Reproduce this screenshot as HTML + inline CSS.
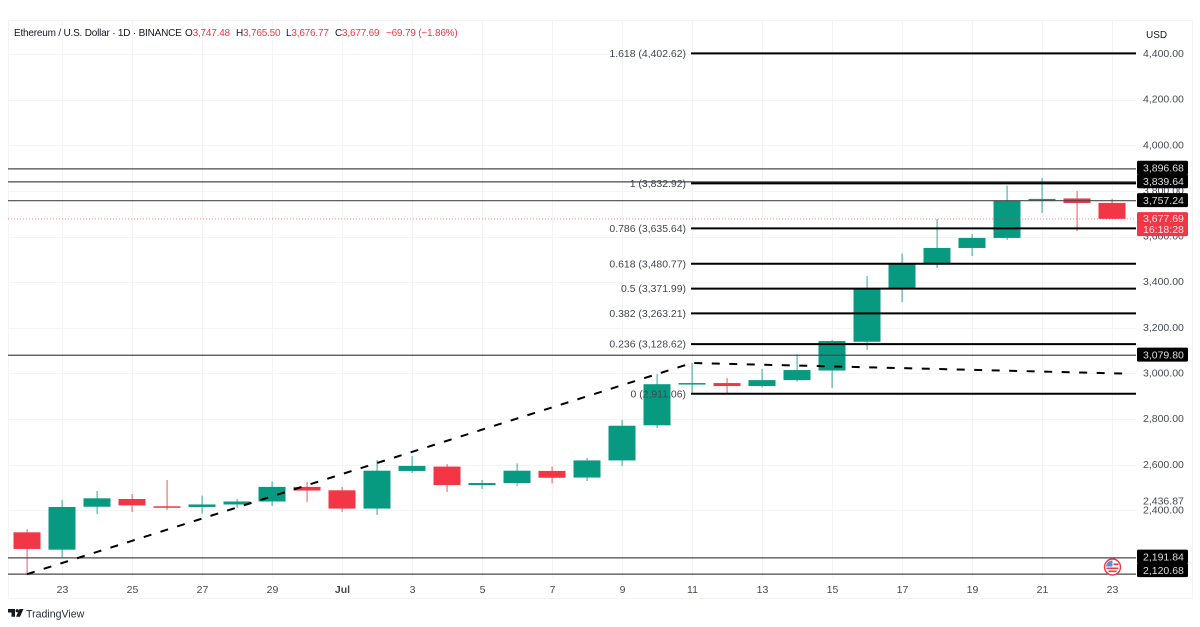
<!DOCTYPE html>
<html lang="en">
<head>
<meta charset="utf-8">
<title>Ethereum / U.S. Dollar chart</title>
<style>
html,body{margin:0;padding:0;background:#fff;width:1200px;height:627px;overflow:hidden}
svg{position:absolute;left:0;top:0;font-family:"Liberation Sans",sans-serif}
.hdr{position:absolute;top:27px;font:10px/14px "Liberation Sans",sans-serif;letter-spacing:-.2px;color:#131722;white-space:nowrap}
.red{color:#f23645}
</style>
</head>
<body>
<svg id="chart" width="1200" height="627" viewBox="0 0 1200 627" xmlns="http://www.w3.org/2000/svg"></svg>

<div class="hdr" style="left:14px">Ethereum / U.S. Dollar · 1D · BINANCE</div>
<div class="hdr" style="left:185px">O<span class="red">3,747.48</span></div>
<div class="hdr" style="left:236px">H<span class="red">3,765.50</span></div>
<div class="hdr" style="left:286px">L<span class="red">3,676.77</span></div>
<div class="hdr" style="left:335px">C<span class="red">3,677.69</span></div>
<div class="hdr red" style="left:386px">−69.79 (−1.86%)</div>

<script>
const dayLabels = ["23","25","27","29","Jul","3","5","7","9","11","13","15","17","19","21","23"];
const dayLabelIndex = [1,3,5,7,9,11,13,15,17,19,21,23,25,27,29,31];
const opens  = [2304,2228,2416,2450,2418,2415,2426,2439,2503,2488,2408,2573,2592,2511,2520,2573,2544,2619,2773,2954,2958,2945,2971,3013,3139,3373,3484,3550,3594,3758,3767,3747.48];
const highs  = [2318,2446,2485,2472,2533,2465,2450,2527,2525,2503,2621,2638,2603,2533,2606,2592,2630,2796,2998,3046,2980,3020,3085,3147,3427,3526,3677,3611,3823,3857,3800,3765.5];
const lows   = [2120.68,2194,2384,2393,2402,2386,2411,2419,2437,2393,2380,2564,2481,2494,2507,2518,2529,2595,2761,2912,2910,2939,2965,2936,3103,3313,3462,3515,3585,3703,3624,3676.77];
const closes = [2231,2415,2453,2422,2413,2426,2439,2503,2487,2408,2574,2595,2511,2520,2574,2543,2619,2771,2953,2958,2945,2971,3015,3142,3372,3480,3550,3594,3757,3765,3747,3677.69];
const priceTicks = [4400,4200,4000,3800,3600,3400,3200,3000,2800,2600,2400];
const fibRatios = ["1.618","1","0.786","0.618","0.5","0.382","0.236","0"];
const fibPrices = [4402.62,3832.92,3635.64,3480.77,3371.99,3263.21,3128.62,2911.06];
const rayPrices = [3896.68,3839.64,3757.24,3079.80,2191.84,2120.68];
const trendIndex = [0,19,31.5];
const trendPrice = [2120.68,3046,2999];
const lastClose = 3677.69;
const secondaryLabel = 2436.87;
const countdown = "16:18:28";

const NS = "http://www.w3.org/2000/svg";
const svg = document.getElementById("chart");
const UP = "#089981", DOWN = "#f23645", GRID = "#f4f4f5", INK = "#131722";
const PANE = {left:8, right:1136, top:21, bottom:578};

const xAt = i => 27 + i * 35;
const yAt = p => 54 + (4400 - p) * 0.2282;
const fmt = v => v.toLocaleString("en-US", {minimumFractionDigits:2, maximumFractionDigits:2});

function make(tag, attrs, text){
  const el = document.createElementNS(NS, tag);
  for (const k in attrs) el.setAttribute(k, attrs[k]);
  if (text !== undefined) el.textContent = text;
  svg.appendChild(el);
  return el;
}

/* frame */
let frame = make("rect", {x:8.5, y:20.5, width:1184, height:578, fill:"none", stroke:GRID});



/* grid */
priceTicks.forEach(p => {
  const el = make("line", {x1:PANE.left, x2:PANE.right, y1:Math.round(yAt(p))+.5, y2:Math.round(yAt(p))+.5, stroke:GRID});
  
  
});
dayLabelIndex.forEach(i => {
  const el = make("line", {x1:xAt(i)+.5, x2:xAt(i)+.5, y1:PANE.top, y2:PANE.bottom, stroke:GRID});
  
  
});

/* candles */
opens.forEach((o, i) => {
  const c = closes[i], col = c >= o ? UP : DOWN, x = xAt(i);
  const wick = make("rect", {x:x-.5, width:1.2, y:yAt(highs[i]), height:yAt(lows[i])-yAt(highs[i]), fill:col, opacity:.7});
  
  
  const top = yAt(Math.max(o,c)), h = Math.max(1.5, Math.abs(yAt(o)-yAt(c)));
  const body = make("rect", {x:x-13.5, width:27, y:top, height:h, fill:col});
  
  
});

/* last price dotted line */
let lastLine = make("line", {x1:PANE.left, x2:PANE.right, y1:yAt(lastClose), y2:yAt(lastClose), stroke:DOWN, "stroke-dasharray":"1 2", opacity:.6});



/* horizontal rays */
rayPrices.forEach(p => {
  const el = make("line", {x1:PANE.left, x2:PANE.right, y1:yAt(p), y2:yAt(p), stroke:"#4a4a4a", "stroke-width":1.2});
  
  
});

/* trend line */
let trend = make("polyline", {
  points: trendIndex.map((t, i) => xAt(t) + "," + yAt(trendPrice[i])).join(" "),
  fill:"none", stroke:"#000", "stroke-width":2, "stroke-dasharray":"8 9.5"
});



/* fibonacci levels */
fibPrices.forEach((p, i) => {
  const ln = make("line", {x1:691, x2:PANE.right, y1:yAt(p), y2:yAt(p), stroke:"#000", "stroke-width":2});
  
  
  const t = make("text", {x:686, y:yAt(p)+3.5, "text-anchor":"end", "font-size":10.45, fill:"#42454f"}, fibRatios[i] + " (" + fmt(p) + ")");
  
  
});

/* right axis */
let unit = make("text", {x:1146, y:38, "font-size":10, fill:INK}, "USD");


priceTicks.forEach(p => {
  const t = make("text", {x:1143, y:yAt(p)+3, "font-size":10.5, fill:INK, opacity:.8}, fmt(p));
  
  
});
let second = make("text", {x:1143, y:504.5, "font-size":10.5, fill:INK, opacity:.8}, fmt(secondaryLabel));



/* x axis */
dayLabels.forEach((d, i) => {
  const t = make("text", {x:xAt(dayLabelIndex[i])+.5, y:593, "text-anchor":"middle", "font-size":10.5, fill:INK, opacity:.8, "font-weight":d === "Jul" ? 700 : 400}, d);
  
  
});

/* price tags: clamp to the pane bottom, then push apart from the bottom upward */
const tagPos = rayPrices.map(yAt);
for (let i = tagPos.length - 1; i >= 0; i--) {
  tagPos[i] = Math.min(tagPos[i], 570.7);
  if (i < tagPos.length - 1 && tagPos[i+1] - tagPos[i] < 13.5) tagPos[i] = tagPos[i+1] - 13.5;
}
rayPrices.forEach((p, i) => {
  const y = tagPos[i] - .6;
  const r = make("rect", {x:1137, y:y-7, width:51, height:14, rx:1.5, fill:"#000"});
  
  
  const t = make("text", {x:1143, y:y+3.8, "font-size":10.5, fill:"#dedede"}, fmt(p));
  
  
});

const lastY = yAt(lastClose);
let lastTag = make("rect", {x:1137, y:lastY-6.7, width:51, height:24, rx:1.5, fill:DOWN});


let lastTxt = make("text", {x:1143, y:lastY+3.4, "font-size":10.5, fill:"#ffe5e7"}, fmt(lastClose));


let cdTxt = make("text", {x:1143, y:lastY+14.4, "font-size":10.5, fill:"#ffe5e7"}, countdown);



/* economic event flag */
let flagRing = make("circle", {cx:1112.5, cy:567, r:8, fill:"#fff", stroke:DOWN, "stroke-width":1.4});


let flagBlue = make("path", {d:"M1106 566.5 A6.5 6.5 0 0 1 1112.5 560.5 L1112.5 566.5 Z", fill:"#5b8fd9"});


let flagS1 = make("rect", {x:1113.5, y:563.5, width:5, height:1.6, fill:DOWN});


let flagS2 = make("rect", {x:1106.5, y:567.5, width:12, height:1.6, fill:DOWN});


let flagS3 = make("rect", {x:1108.5, y:570.5, width:8, height:1.6, fill:DOWN});



/* attribution */
let logoA = make("path", {d:"M8 609H15V616.7H11.5V612.5H8Z", fill:"#131722"});


let logoB = make("circle", {cx:17.2, cy:610.7, r:1.6, fill:"#131722"});


let logoC = make("path", {d:"M19.5 609H23.5L20 616.7H16Z", fill:"#131722"});


let brand = make("text", {x:26, y:617.5, "font-size":10.6, fill:"#2a2e39"}, "TradingView");


</script>
</body>
</html>
